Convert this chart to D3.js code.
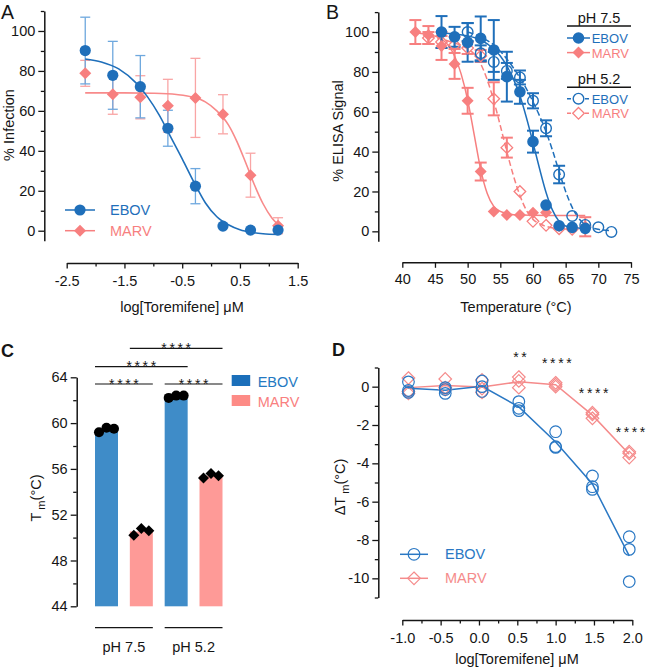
<!DOCTYPE html>
<html><head><meta charset="utf-8">
<script src="https://cdn.jsdelivr.net/npm/d3@7"></script>
<style>body{margin:0;background:#fff} svg{display:block}</style>
</head><body><svg id="c" width="650" height="670"></svg>
<script>
// ---------------- DATA ----------------
// Panel A: infection vs log dose
const aDoses      = [-2.179,-1.702,-1.225,-0.748,-0.271,0.206,0.683,1.16];
const aEbovMean   = [90.2,77.8,72.1,51.3,22.3,2.3,0.3,0.3];
const aEbovErr    = [16.7,17,15.6,9,8.8,0,0,0];
const aMarvMean   = [78.8,68.3,66.8,62.6,66.5,58.3,27.8,2.5];
const aMarvErr    = [6.5,10,10.8,13.2,19.8,9.8,11,4];
const aEbovFitX   = [-2.18,-1.9,-1.6,-1.3,-1.1,-0.9,-0.7,-0.5,-0.3,-0.1,0.1,0.3,0.5,0.7,0.9,1.16];
const aEbovFitY   = [86,84.5,81,74,67,58,47,36,24.5,14,7,3,0.5,-0.8,-1.5,-1.9];
const aMarvFitX   = [-2.18,-1.5,-1.0,-0.6,-0.3,-0.1,0.1,0.3,0.45,0.6,0.75,0.9,1.05,1.16];
const aMarvFitY   = [69,69,68.8,68.2,66.8,64.5,60,53,44.5,34,23,13.5,6.5,3];
const aXTicks     = [-2.5,-1.5,-0.5,0.5,1.5];
const aXMinor     = [-2,-1,0,1];
const pctTicks    = [0,20,40,60,80,100];
const pctMinor    = [10,30,50,70,90,110];

// Panel B: ELISA signal vs temperature
const b75EbovT   = [46,48,50,52,54,56,58,60,62,64,66,68];
const b75EbovY   = [100,97.6,94.8,96.8,91,77.6,70,45,13.2,2.8,2,1.5];
const b75EbovErr = [8,5,9.7,11,15,12.5,6,5.5,1.5,1.5,1,1];
const b75MarvT   = [42,44,46,48,50,52,54,56,58,60,62,64,66,68];
const b75MarvY   = [100,98.5,93,84,65.5,30,10,8.2,8.2,9.3,9.5,2.5,1.8,2.3];
const b75MarvErr = [6,4.5,7,7.5,6.5,4.5,1,1,1,1,1,1,1,4.8];
const b52EbovT   = [50,52,54,56,58,60,62,64,66,68,70,72];
const b52EbovY   = [100,89.3,85,80.5,77.2,65.5,51.7,28.5,7.7,3.2,2,-0.3];
const b52EbovErr = [4.5,4,5,4,3.5,3.8,4,4.4,1,1,0.5,0.5];
const b52MarvT   = [44,46,48,50,52,54,56,58,60,62,64,66];
const b52MarvY   = [97,95,93.5,92,88,66.5,42,20,5,3,1.3,1];
const b52MarvErr = [3,3,4,3,3,8.3,5,1,1,1,1,1];
const b75EbovFitX = [46,48,50,52,54,55,56,57,58,59,60,61,62,63,64,65,66,68];
const b75EbovFitY = [99.5,99,98,96,91.5,88,83,76.5,68,57,44.5,31.5,19.5,10.5,5,2.7,1.9,1.5];
const b75MarvFitX = [42,44,46,47,48,49,50,51,52,53,54,55,56,58,62,68];
const b75MarvFitY = [99.5,98.7,96.5,93.5,88,79,66,48.5,31,19,12.5,10,9,8.2,8,8];
const b52EbovFitX = [50,52,54,56,58,59,60,61,62,63,64,65,66,67,68,70,72];
const b52EbovFitY = [100,97.5,93.5,86.5,77,71.5,65,58,50,40.5,30,20,12,6.5,3.5,1,0.3];
const b52MarvFitX = [44,46,48,50,51,52,53,54,55,56,57,58,59,60,61,62,64,66];
const b52MarvFitY = [98,96.5,94.5,91.5,89,84,76,65.5,53,40,28,18,10.5,6,3.8,2.5,1.3,1];
const bXTicks     = [40,45,50,55,60,65,70,75];

// Panel C: Tm bars
const cBars      = ["EBOV 7.5","MARV 7.5","EBOV 5.2","MARV 5.2"];
const cVirus     = ["EBOV","MARV","EBOV","MARV"];
const cReps      = [[59.2,59.6,59.5],[50.2,50.8,50.6],[62.2,62.4,62.4],[55.2,55.6,55.4]];
const cGroups    = ["pH 7.5","pH 5.2"];
const cSigPairs  = [["EBOV 7.5","MARV 7.5"],["EBOV 5.2","MARV 5.2"],["EBOV 7.5","EBOV 5.2"],["MARV 7.5","MARV 5.2"]];
const cSigLabels = ["****","****","****","****"];
const cYTicks    = [44,48,52,56,60,64];
const cYMinor    = [46,50,54,58,62];

// Panel D: delta Tm vs log dose
const dDoses   = [-0.92,-0.44,0.04,0.52,1.0,1.48,1.96];
const dEbovReps = [[0.25,-0.2,-0.3],[-0.05,-0.15,-0.35],[0.3,0.0,-0.25],[-0.78,-1.13,-1.25],[-2.35,-3.13,-3.17],[-4.66,-5.22,-5.36],[-7.83,-8.49,-10.17]];
const dMarvReps = [[0.45,-0.25,-0.35],[0.4,-0.05,-0.15],[0.35,-0.1,-0.3],[0.5,0.3,-0.05],[0.2,0.1,0.0],[-1.36,-1.65,-1.45],[-3.39,-3.48,-3.7]];
const dSigX      = [0.52,1.0,1.48,1.96];
const dSigLabels = ["**","****","****","****"];
const dXTicks = [-1,-0.5,0,0.5,1,1.5,2];
const dXMinor = [-0.75,-0.25,0.25,0.75,1.25,1.75];
const dYTicks = [-10,-8,-6,-4,-2,0];
const dYMinor = [-11,-9,-7,-5,-3,-1,1];

// ---------------- STYLE ----------------
const FONT = '"Liberation Sans", Arial, Helvetica, sans-serif';
const BLUE = "#1f6fba", PINK = "#f77f7f";
const BLUE_L = "#6ea8de", PINK_L = "#f9a5a5";
const INK = "#151515";
const svg = d3.select("#c").attr("font-family", FONT);
const diamond = h => `M0,${-h}L${h},0L0,${h}L${-h},0Z`;

function styleAxis(g, fs){
  g.selectAll("text").attr("font-size", fs).attr("font-family", FONT).attr("fill", INK);
  g.selectAll("line").attr("stroke", INK).attr("stroke-width", 1.3);
  g.selectAll(".domain").attr("stroke", INK).attr("stroke-width", 1.5);
}
function yAxis(scale, x, major, minor, fmt){
  const g = svg.append("g").attr("transform", `translate(${x},0)`)
    .call(d3.axisLeft(scale).tickValues(major).tickSize(6).tickPadding(3).tickSizeOuter(0).tickFormat(fmt));
  styleAxis(g, 14.5);
  if (minor){
    const m = svg.append("g").attr("transform", `translate(${x},0)`)
      .call(d3.axisLeft(scale).tickValues(minor).tickSize(3.5).tickFormat("").tickSizeOuter(0));
    m.select(".domain").remove(); styleAxis(m, 14.5);
  }
}
function xAxis(scale, y, major, minor, fmt, pad){
  const g = svg.append("g").attr("transform", `translate(0,${y})`)
    .call(d3.axisBottom(scale).tickValues(major).tickSize(5.5).tickPadding(pad).tickSizeOuter(0).tickFormat(fmt));
  styleAxis(g, 14.5);
  if (minor){
    const m = svg.append("g").attr("transform", `translate(0,${y})`)
      .call(d3.axisBottom(scale).tickValues(minor).tickSize(3.5).tickFormat("").tickSizeOuter(0));
    m.select(".domain").remove(); styleAxis(m, 14.5);
  }
}
function vLabel(x, y, txt){
  return svg.append("text").attr("transform", `translate(${x},${y}) rotate(-90)`)
    .attr("text-anchor","middle").attr("font-size",14.5).attr("fill",INK).text(txt);
}
function hLabel(x, y, txt){
  return svg.append("text").attr("x",x).attr("y",y).attr("text-anchor","middle")
    .attr("font-size",14.5).attr("fill",INK).text(txt);
}
function panelLetter(x, y, t, bold){
  svg.append("text").attr("x",x).attr("y",y).attr("font-size",bold?18:19.5)
    .attr("font-weight",bold?"bold":"normal").attr("fill",INK).text(t);
}
function errBars(xs, ys, es, xS, yS, color, w, cap, minPx){
  const g = svg.append("g").attr("stroke", color).attr("stroke-width", w);
  xs.forEach((xv,i)=>{
    const e = es[i]; if (!(e>0)) return;
    const y1 = yS(ys[i]+e), y2 = yS(ys[i]-e), cx = xS(xv);
    if (Math.abs(y2-y1)/2 < minPx) return;
    g.append("line").attr("x1",cx).attr("x2",cx).attr("y1",y1).attr("y2",y2);
    g.append("line").attr("x1",cx-cap).attr("x2",cx+cap).attr("y1",y1).attr("y2",y1);
    g.append("line").attr("x1",cx-cap).attr("x2",cx+cap).attr("y1",y2).attr("y2",y2);
  });
}
function fitLine(xs, ys, xS, yS, color, w, dash){
  const line = d3.line().x(d=>xS(d[0])).y(d=>yS(d[1])).curve(d3.curveMonotoneX);
  svg.append("path").attr("d", line(d3.zip(xs, ys))).attr("fill","none")
    .attr("stroke", color).attr("stroke-width", w).attr("stroke-dasharray", dash||null);
}
function markers(xs, ys, xS, yS, shape, size, fill, stroke, sw){
  svg.append("g").selectAll("path").data(d3.zip(xs, ys)).join("path")
    .attr("transform", d=>`translate(${xS(d[0])},${yS(d[1])})`)
    .attr("d", shape==="circle" ? d3.symbol(d3.symbolCircle, Math.PI*size*size)() : diamond(size))
    .attr("fill", fill).attr("stroke", stroke).attr("stroke-width", sw);
}
function legendRow(x1, x2, y, tx, label, shape, size, fill, stroke, sw, dash, color, fs){
  svg.append("line").attr("x1",x1).attr("x2",x2).attr("y1",y).attr("y2",y)
    .attr("stroke",stroke).attr("stroke-width",1.5).attr("stroke-dasharray",dash||null);
  const mx = (x1+x2)/2;
  svg.append("path").attr("transform",`translate(${mx},${y})`)
    .attr("d", shape==="circle" ? d3.symbol(d3.symbolCircle, Math.PI*size*size)() : diamond(size))
    .attr("fill",fill).attr("stroke",stroke).attr("stroke-width",sw);
  svg.append("text").attr("x",tx).attr("y",y+5).attr("font-size",fs||14.5).attr("fill",color).text(label);
}
const fmtStr = d => String(d);

// ---------------- PANEL A ----------------
{
  const x = d3.scaleLinear().domain([-2.5,1.5]).range([66.7,297.7]);
  const y = d3.scaleLinear().domain([-5,110]).range([240.7,11]);
  yAxis(y, 44.3, pctTicks, pctMinor, fmtStr);
  xAxis(x, 263, aXTicks, aXMinor, fmtStr, 7);
  vLabel(14, 125, "% Infection");
  hLabel(182, 312, "log[Toremifene] \u03bcM");
  panelLetter(1, 18.5, "A", false);
  errBars(aDoses, aMarvMean, aMarvErr, x, y, PINK_L, 1.3, 5, 0);
  errBars(aDoses, aEbovMean, aEbovErr, x, y, BLUE_L, 1.3, 5, 0);
  fitLine(aMarvFitX, aMarvFitY, x, y, "#f88a8a", 1.6);
  fitLine(aEbovFitX, aEbovFitY, x, y, BLUE, 1.6);
  markers(aDoses, aMarvMean, x, y, "diamond", 6, PINK, "none", 0);
  markers(aDoses, aEbovMean, x, y, "circle", 5.6, BLUE, "none", 0);
  legendRow(65, 95, 210, 110, "EBOV", "circle", 5.6, BLUE, BLUE, 0, null, BLUE);
  legendRow(65, 95, 230.7, 110, "MARV", "diamond", 6, PINK, PINK, 0, null, PINK);
}

// ---------------- PANEL B ----------------
{
  const x = d3.scaleLinear().domain([40,75]).range([402.3,631]);
  const y = d3.scaleLinear().domain([-5,110]).range([241.3,12.1]);
  yAxis(y, 378.3, pctTicks, pctMinor, fmtStr);
  xAxis(x, 262.3, bXTicks, null, fmtStr, 6);
  vLabel(343, 131, "% ELISA Signal");
  hLabel(516, 312, "Temperature (\u00b0C)");
  panelLetter(326, 18.5, "B", false);
  fitLine(b52MarvFitX, b52MarvFitY, x, y, PINK, 1.5, "6,3");
  fitLine(b52EbovFitX, b52EbovFitY, x, y, BLUE, 1.5, "6,3");
  fitLine(b75MarvFitX, b75MarvFitY, x, y, PINK, 1.5);
  fitLine(b75EbovFitX, b75EbovFitY, x, y, BLUE, 1.5);
  errBars(b52MarvT, b52MarvY, b52MarvErr, x, y, PINK, 2, 6, 5);
  errBars(b52EbovT, b52EbovY, b52EbovErr, x, y, BLUE, 2, 6, 5);
  errBars(b75MarvT, b75MarvY, b75MarvErr, x, y, PINK, 2, 6, 5.5);
  errBars(b75EbovT, b75EbovY, b75EbovErr, x, y, BLUE, 2, 6, 5.5);
  markers(b52MarvT, b52MarvY, x, y, "diamond", 5.8, "none", PINK, 1.3);
  markers(b52EbovT, b52EbovY, x, y, "circle", 5.3, "none", BLUE, 1.4);
  markers(b75MarvT, b75MarvY, x, y, "diamond", 6, PINK, "none", 0);
  markers(b75EbovT, b75EbovY, x, y, "circle", 5.8, BLUE, "none", 0);
  // legend
  svg.append("text").attr("x",599).attr("y",23).attr("text-anchor","middle").attr("font-size",14.5).attr("fill",INK).text("pH 7.5");
  svg.append("line").attr("x1",567).attr("x2",631).attr("y1",26).attr("y2",26).attr("stroke",INK).attr("stroke-width",1.5);
  legendRow(567, 590, 38, 591.7, "EBOV", "circle", 5.8, BLUE, BLUE, 0, null, BLUE, 13);
  legendRow(567, 590, 52.6, 591.7, "MARV", "diamond", 6, PINK, PINK, 0, null, PINK, 13);
  svg.append("text").attr("x",599).attr("y",84).attr("text-anchor","middle").attr("font-size",14.5).attr("fill",INK).text("pH 5.2");
  svg.append("line").attr("x1",567).attr("x2",631).attr("y1",87.3).attr("y2",87.3).attr("stroke",INK).attr("stroke-width",1.5);
  legendRow(567, 590, 98.7, 591.7, "EBOV", "circle", 5.3, "white", BLUE, 1.4, "4,2", BLUE, 13);
  legendRow(567, 590, 113.3, 591.7, "MARV", "diamond", 5.8, "white", PINK, 1.3, "4,2", PINK, 13);
}

// ---------------- PANEL C ----------------
{
  const x = d3.scaleBand().domain(cBars).range([95,222.5]).paddingInner(0.34).paddingOuter(0);
  const y = d3.scaleLinear().domain([44,64]).range([606.3,377.3]);
  const barCol = {EBOV:"#3f8cc8", MARV:"#fe9a97"};
  yAxis(y, 76.7, cYTicks, cYMinor, fmtStr);
  panelLetter(1, 357, "C", true);
  const lab = svg.append("text").attr("transform","translate(41,498) rotate(-90)")
    .attr("text-anchor","middle").attr("font-size",14.5).attr("fill",INK);
  lab.append("tspan").text("T");
  lab.append("tspan").attr("font-size",11).attr("dx",3).attr("dy",4).text("m");
  lab.append("tspan").attr("dy",-4).text("(\u00b0C)");
  svg.append("g").selectAll("rect").data(cBars).join("rect")
    .attr("x", d=>x(d)).attr("width", x.bandwidth())
    .attr("y", (d,i)=>y(d3.mean(cReps[i]))).attr("height", (d,i)=>y(44)-y(d3.mean(cReps[i])))
    .attr("fill", (d,i)=>barCol[cVirus[i]]);
  const off = [-7.5,0,7.5];
  cBars.forEach((b,i)=>{
    const cx = x(b)+x.bandwidth()/2;
    cReps[i].forEach((v,j)=>{
      svg.append("path").attr("transform",`translate(${cx+off[j]},${y(v)})`)
        .attr("d", cVirus[i]==="EBOV" ? d3.symbol(d3.symbolCircle, Math.PI*25)() : diamond(5.5))
        .attr("fill","#000");
    });
  });
  // significance brackets
  const tierY = [384, 384, 366.7, 348.3];
  cSigPairs.forEach((p,i)=>{
    const x1 = x(p[0]), x2 = x(p[1]) + x.bandwidth();
    svg.append("line").attr("x1",x1).attr("x2",x2).attr("y1",tierY[i]).attr("y2",tierY[i]).attr("stroke",INK).attr("stroke-width",1.2);
    svg.append("text").attr("x",(x1+x2)/2 + 1.3).attr("y",tierY[i]+4.5).attr("text-anchor","middle")
      .attr("font-size",14).attr("letter-spacing",2.6).attr("fill",INK).text(cSigLabels[i]);
  });
  // group labels
  cGroups.forEach((g,k)=>{
    const x1 = x(cBars[2*k]), x2 = x(cBars[2*k+1]) + x.bandwidth();
    svg.append("line").attr("x1",x1).attr("x2",x2).attr("y1",627.7).attr("y2",627.7).attr("stroke",INK).attr("stroke-width",1.3);
    svg.append("text").attr("x",(x1+x2)/2).attr("y",652).attr("text-anchor","middle").attr("font-size",14.5).attr("fill",INK).text(g);
  });
  // legend
  [["EBOV","#1b6fba","#2479c2"],["MARV","#fd8b86","#f98080"]].forEach((r,i)=>{
    svg.append("rect").attr("x",231.7).attr("y",375+i*20).attr("width",18.5).attr("height",11).attr("fill",r[1]);
    svg.append("text").attr("x",257.7).attr("y",386.5+i*20).attr("font-size",14.5).attr("fill",r[2]).text(r[0]);
  });
}

// ---------------- PANEL D ----------------
{
  const x = d3.scaleLinear().domain([-1,2]).range([402.3,632.3]);
  const y = d3.scaleLinear().domain([-11,1]).range([597.5,367.5]);
  const DB = "#2a78c4", DP = "#f58b8b";
  yAxis(y, 378.3, dYTicks, dYMinor, fmtStr);
  xAxis(x, 620, dXTicks, dXMinor, d=>d.toFixed(1), 7);
  panelLetter(332, 356, "D", true);
  const lab = svg.append("text").attr("transform","translate(345,487) rotate(-90)")
    .attr("text-anchor","middle").attr("font-size",14.5).attr("fill",INK);
  lab.append("tspan").text("\u0394T");
  lab.append("tspan").attr("font-size",11).attr("dx",3).attr("dy",4).text("m");
  lab.append("tspan").attr("dy",-4).text("(\u00b0C)");
  hLabel(517, 664, "log[Toremifene] \u03bcM");
  const flat = (reps) => dDoses.flatMap((d,i)=>reps[i].map(v=>[d,v]));
  const line = d3.line().x(d=>x(d[0])).y(d=>y(d[1]));
  svg.append("path").attr("d", line(dDoses.map((d,i)=>[d, d3.mean(dMarvReps[i])]))).attr("fill","none").attr("stroke",DP).attr("stroke-width",1.5);
  svg.append("path").attr("d", line(dDoses.map((d,i)=>[d, d3.mean(dEbovReps[i])]))).attr("fill","none").attr("stroke",DB).attr("stroke-width",1.5);
  const mp = flat(dMarvReps), eb = flat(dEbovReps);
  markers(mp.map(d=>d[0]), mp.map(d=>d[1]), x, y, "diamond", 6.3, "none", DP, 1.2);
  markers(eb.map(d=>d[0]), eb.map(d=>d[1]), x, y, "circle", 5.8, "none", DB, 1.2);
  dSigX.forEach((sx,i)=>{
    const k = dDoses.indexOf(sx);
    const top = d3.max(dMarvReps[k]);
    svg.append("text").attr("x", x(sx) + 2.5).attr("y", y(top)-22+7).attr("text-anchor","middle")
      .attr("font-size",14).attr("letter-spacing",2.6).attr("fill",INK).text(dSigLabels[i]);
  });
  legendRow(400, 428, 554.3, 445, "EBOV", "circle", 5.8, "none", DB, 1.2, null, DB);
  legendRow(400, 428, 578.3, 445, "MARV", "diamond", 6.3, "none", DP, 1.2, null, DP);
}
</script></body></html>
